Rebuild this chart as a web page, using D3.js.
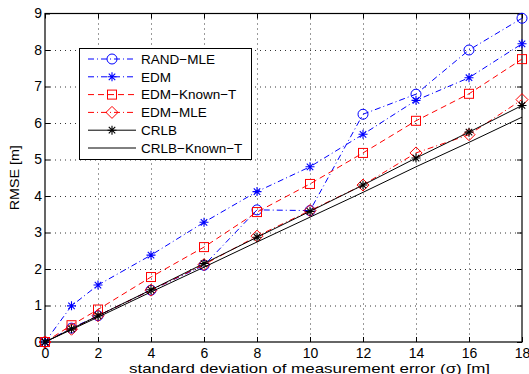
<!DOCTYPE html>
<html>
<head>
<meta charset="utf-8">
<style>
  body { margin: 0; background: #fff; }
  text { font-family: "Liberation Sans", Arial, sans-serif; }
</style>
</head>
<body>
<div id="chart"></div>
<script src="https://d3js.org/d3.v7.min.js"></script>
<script>
const sigma = [0, 1, 2, 4, 6, 8, 10, 12, 14, 16, 18];
const randMle = [0, 0.38, 0.72, 1.42, 2.1, 3.62, 3.6, 6.24, 6.79, 8.0, 8.87];
const edm = [0, 0.99, 1.56, 2.38, 3.28, 4.12, 4.8, 5.69, 6.62, 7.24, 8.17];
const edmKnownT = [0, 0.46, 0.89, 1.78, 2.6, 3.56, 4.33, 5.18, 6.06, 6.8, 7.75];
const edmMle = [0, 0.35, 0.72, 1.42, 2.12, 2.9, 3.6, 4.3, 5.18, 5.68, 6.64];
const crlb = [0, 0.36, 0.72, 1.43, 2.15, 2.87, 3.58, 4.3, 5.04, 5.75, 6.48];
const crlbKnownT = [0, 0.34, 0.68, 1.37, 2.05, 2.74, 3.42, 4.1, 4.8, 5.47, 6.16];
const xTicks = [0, 2, 4, 6, 8, 10, 12, 14, 16, 18];
const yTicks = [0, 1, 2, 3, 4, 5, 6, 7, 8, 9];

const series = [
  { name: 'RAND\u2212MLE', values: randMle, color: '#0000ff', dash: '6,3,1,3', marker: 'circle' },
  { name: 'EDM', values: edm, color: '#0000ff', dash: '6,3,1,3', marker: 'star' },
  { name: 'EDM\u2212Known\u2212T', values: edmKnownT, color: '#ff0000', dash: '6,4', marker: 'square' },
  { name: 'EDM\u2212MLE', values: edmMle, color: '#ff0000', dash: '6,3,1,3', marker: 'diamond' },
  { name: 'CRLB', values: crlb, color: '#000000', dash: null, marker: 'star' },
  { name: 'CRLB\u2212Known\u2212T', values: crlbKnownT, color: '#000000', dash: null, marker: null }
];

const width = 529, height = 374;
const plotLeft = 45, plotRight = 522, plotTop = 13.5, plotBottom = 342;

const x = d3.scaleLinear().domain([0, 18]).range([plotLeft, plotRight]);
const y = d3.scaleLinear().domain([0, 9]).range([plotBottom, plotTop]);

const svg = d3.select('#chart').append('svg')
  .attr('width', width).attr('height', height);

// grid
svg.append('g').selectAll('line').data(xTicks.slice(1, -1)).enter().append('line')
  .attr('x1', d => x(d) + 0.5).attr('x2', d => x(d) + 0.5)
  .attr('y1', plotTop).attr('y2', plotBottom)
  .attr('stroke', '#000').attr('stroke-width', 0.8).attr('stroke-dasharray', '1,4');
svg.append('g').selectAll('line').data(yTicks.slice(1, -1)).enter().append('line')
  .attr('y1', d => y(d) + 0.5).attr('y2', d => y(d) + 0.5)
  .attr('x1', plotLeft).attr('x2', plotRight)
  .attr('stroke', '#000').attr('stroke-width', 0.8).attr('stroke-dasharray', '1,4');

// axes
const xAxis = d3.axisBottom(x).tickValues(xTicks).tickSizeInner(-5).tickSizeOuter(0).tickPadding(6);
const yAxis = d3.axisLeft(y).tickValues(yTicks).tickSizeInner(-5).tickSizeOuter(0).tickPadding(3);
const gx = svg.append('g').attr('transform', `translate(0,${plotBottom})`).call(xAxis);
const gy = svg.append('g').attr('transform', `translate(${plotLeft},0)`).call(yAxis);
[gx, gy].forEach(g => {
  g.select('.domain').remove();
  g.selectAll('text').attr('font-size', 14).attr('fill', '#000')
    .attr('font-family', '"Liberation Sans", Arial, sans-serif');
  g.selectAll('line').attr('stroke', '#000');
});
// top / right ticks
const gt = svg.append('g').attr('transform', `translate(0,${plotTop})`).call(d3.axisTop(x).tickValues(xTicks).tickSizeInner(-5).tickSizeOuter(0).tickFormat(''));
const gr = svg.append('g').attr('transform', `translate(${plotRight},0)`).call(d3.axisRight(y).tickValues(yTicks).tickSizeInner(-5).tickSizeOuter(0).tickFormat(''));
[gt, gr].forEach(g => { g.select('.domain').remove(); g.selectAll('line').attr('stroke', '#000'); });

svg.append('rect').attr('x', plotLeft).attr('y', plotTop)
  .attr('width', plotRight - plotLeft).attr('height', plotBottom - plotTop)
  .attr('fill', 'none').attr('stroke', '#000').attr('stroke-width', 1.2);

function drawMarker(g, type, cx, cy, color) {
  if (type === 'circle') {
    g.append('circle').attr('cx', cx).attr('cy', cy).attr('r', 5)
      .attr('fill', 'none').attr('stroke', color).attr('stroke-width', 1);
  } else if (type === 'square') {
    g.append('rect').attr('x', cx - 4.5).attr('y', cy - 4.5).attr('width', 9).attr('height', 9)
      .attr('fill', 'none').attr('stroke', color).attr('stroke-width', 1);
  } else if (type === 'diamond') {
    g.append('path').attr('d', `M${cx},${cy - 6}L${cx + 6},${cy}L${cx},${cy + 6}L${cx - 6},${cy}Z`)
      .attr('fill', 'none').attr('stroke', color).attr('stroke-width', 1);
  } else if (type === 'star') {
    const r = 4.5, d = r * 0.72;
    g.append('path')
      .attr('d', `M${cx - r},${cy}H${cx + r}M${cx},${cy - r}V${cy + r}M${cx - d},${cy - d}L${cx + d},${cy + d}M${cx - d},${cy + d}L${cx + d},${cy - d}`)
      .attr('stroke', color).attr('stroke-width', 1.1).attr('fill', 'none');
  }
}

const line = d3.line().x((d, i) => x(sigma[i])).y(d => y(d));
const plot = svg.append('g');
series.forEach(s => {
  plot.append('path').datum(s.values).attr('d', line)
    .attr('fill', 'none').attr('stroke', s.color).attr('stroke-width', 1)
    .attr('stroke-dasharray', s.dash);
  if (s.marker) {
    const mg = plot.append('g');
    s.values.forEach((v, i) => drawMarker(mg, s.marker, x(sigma[i]), y(v), s.color));
  }
});

// legend
const lg = svg.append('g');
lg.append('rect').attr('x', 79.5).attr('y', 48.5).attr('width', 172).attr('height', 111)
  .attr('fill', '#fff').attr('stroke', '#000').attr('stroke-width', 1);
series.forEach((s, i) => {
  const ly = 59 + i * 17.8;
  lg.append('line').attr('x1', 88).attr('x2', 136).attr('y1', ly).attr('y2', ly)
    .attr('stroke', s.color).attr('stroke-width', 1).attr('stroke-dasharray', s.dash);
  if (s.marker) drawMarker(lg, s.marker, 112, ly, s.color);
  lg.append('text').attr('x', 141).attr('y', ly).attr('dy', '0.35em')
    .attr('font-size', 13.5).text(s.name);
});

svg.append('text').attr('transform', `translate(19,${(plotTop + plotBottom) / 2}) rotate(-90)`)
  .attr('text-anchor', 'middle').attr('font-size', 12.5)
  .attr('textLength', 65).attr('lengthAdjust', 'spacingAndGlyphs').text('RMSE [m]');
svg.append('text').attr('x', 309.5).attr('y', 372.5)
  .attr('text-anchor', 'middle').attr('font-size', 13.5)
  .attr('textLength', 361).attr('lengthAdjust', 'spacingAndGlyphs')
  .text('standard deviation of measurement error (\u03c3) [m]');
</script>
</body>
</html>
